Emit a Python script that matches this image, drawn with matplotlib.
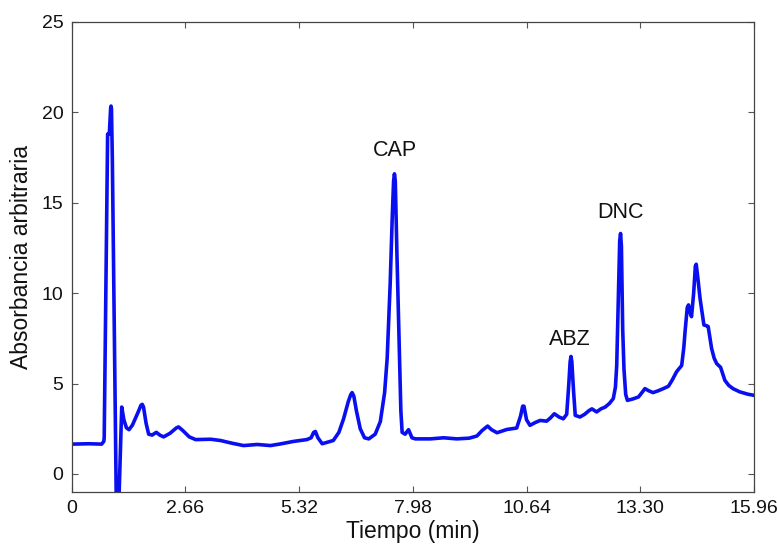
import numpy as np
import matplotlib
matplotlib.use("Agg")
from matplotlib import pyplot as plt

# chromatogram: time (min) and absorbance
tiempo = [0.00, 0.40, 0.70, 0.75, 0.76, 0.84, 0.88, 0.91, 0.92, 0.93, 0.95, 1.04, 1.07, 1.11,
          1.17, 1.22, 1.28, 1.34, 1.42, 1.55, 1.62, 1.65, 1.68, 1.74, 1.80, 1.88, 1.98, 2.06,
          2.15, 2.30, 2.45, 2.50, 2.60, 2.75, 2.90, 3.25, 3.48, 3.75, 4.02, 4.34, 4.65,
          4.88, 5.19, 5.50, 5.60, 5.66, 5.70, 5.76, 5.86, 6.12, 6.25, 6.36, 6.47, 6.53, 6.56,
          6.60, 6.66, 6.75, 6.85, 6.95, 7.10, 7.22, 7.32, 7.38, 7.45, 7.50, 7.53, 7.55, 7.57,
          7.61, 7.65, 7.70, 7.73, 7.80, 7.88, 7.96, 8.04, 8.39, 8.70, 9.01, 9.30, 9.48,
          9.60, 9.73, 9.82, 9.95, 10.18, 10.41, 10.50, 10.55, 10.58, 10.64, 10.72, 10.85, 10.96,
          11.11, 11.20, 11.29, 11.40, 11.50, 11.58, 11.63, 11.66, 11.68, 11.70, 11.74, 11.78, 11.89, 12.00,
          12.10, 12.17, 12.28, 12.38, 12.48, 12.58, 12.67, 12.72, 12.75, 12.79, 12.82, 12.84, 12.86, 12.89,
          12.92, 12.96, 13.00, 13.13, 13.26, 13.34, 13.41, 13.50, 13.60, 13.72, 13.84, 13.96,
          14.05, 14.15, 14.20, 14.27, 14.32, 14.35, 14.40, 14.43, 14.47, 14.50, 14.55, 14.59, 14.61, 14.65,
          14.70, 14.79, 14.85, 14.89, 14.97, 15.03, 15.09, 15.18, 15.28, 15.37, 15.47, 15.63,
          15.82, 15.96]
absorbancia = [1.65, 1.67, 1.65, 1.8, 2.0, 18.8, 18.8, 20.2, 20.35, 20.2, 17.5, -1.0, -4.0, -1.0,
               3.7, 3.0, 2.55, 2.45, 2.7, 3.4, 3.8, 3.85, 3.7, 2.8, 2.2, 2.15, 2.3, 2.15,
               2.05, 2.25, 2.55, 2.6, 2.4, 2.05, 1.9, 1.92, 1.85, 1.7, 1.57, 1.63, 1.57,
               1.66, 1.8, 1.9, 2.0, 2.3, 2.35, 2.0, 1.67, 1.85, 2.3, 3.05, 4.0, 4.4, 4.5,
               4.3, 3.5, 2.5, 2.0, 1.94, 2.2, 2.9, 4.5, 6.4, 10.5, 14.3, 16.2, 16.6, 16.2,
               12.0, 8.2, 3.5, 2.3, 2.2, 2.45, 2.0, 1.94, 1.94, 2.0, 1.94, 1.98, 2.1,
               2.4, 2.65, 2.45, 2.28, 2.46, 2.54, 3.2, 3.75, 3.75, 3.0, 2.69, 2.85, 2.96,
               2.92, 3.1, 3.33, 3.15, 3.05, 3.3, 5.0, 6.2, 6.5, 6.2, 4.6, 3.24, 3.15, 3.3,
               3.5, 3.6, 3.43, 3.6, 3.7, 3.9, 4.17, 4.8, 6.0, 10.0, 12.9, 13.3, 12.6, 8.0,
               5.8, 4.4, 4.07, 4.15, 4.26, 4.5, 4.72, 4.6, 4.5, 4.6, 4.72, 4.85,
               5.2, 5.65, 5.8, 6.0, 7.0, 7.9, 9.2, 9.35, 8.9, 8.7, 10.0, 11.5, 11.6, 10.8,
               9.7, 8.24, 8.2, 8.15, 6.94, 6.4, 6.1, 5.9, 5.18, 4.9, 4.72, 4.54,
               4.41, 4.35]

x_ticks = [0, 2.66, 5.32, 7.98, 10.64, 13.30, 15.96]
x_tick_labels = ["0", "2.66", "5.32", "7.98", "10.64", "13.30", "15.96"]
y_ticks = [0, 5, 10, 15, 20, 25]

# peak labels
picos = ["CAP", "ABZ", "DNC"]
picos_t = [7.55, 11.66, 12.83]
picos_y = [17.9, 7.45, 14.45]

plt.rcParams['font.family'] = ['Liberation Sans', 'DejaVu Sans']

fig = plt.figure(figsize=(7.77, 5.47), dpi=100)
ax = fig.add_axes([0.0923, 0.1005, 0.878, 0.8593])

ax.plot(tiempo, absorbancia, color='#0a0ff0', lw=2.6,
        solid_joinstyle='round', solid_capstyle='round')

for nombre, t, y in zip(picos, picos_t, picos_y):
    ax.text(t, y, nombre, ha='center', va='center', fontsize=15.5, color='#111111')

ax.set_xlim(0, 15.96)
ax.set_ylim(-1, 25)
ax.set_xticks(x_ticks)
ax.set_xticklabels(x_tick_labels)
ax.set_yticks(y_ticks)
ax.tick_params(direction='in', top=True, right=True, length=4, width=0.8,
               labelsize=14, colors='#555555', labelcolor='#111111', pad=6)
for s in ax.spines.values():
    s.set_color('#444444')
    s.set_linewidth(0.9)

ax.set_xlabel("Tiempo (min)", fontsize=16.5, labelpad=2, color='#111111')
ax.set_ylabel("Absorbancia arbitraria", fontsize=16.5, labelpad=6, color='#111111')

fig.savefig("out.png", dpi=100)
